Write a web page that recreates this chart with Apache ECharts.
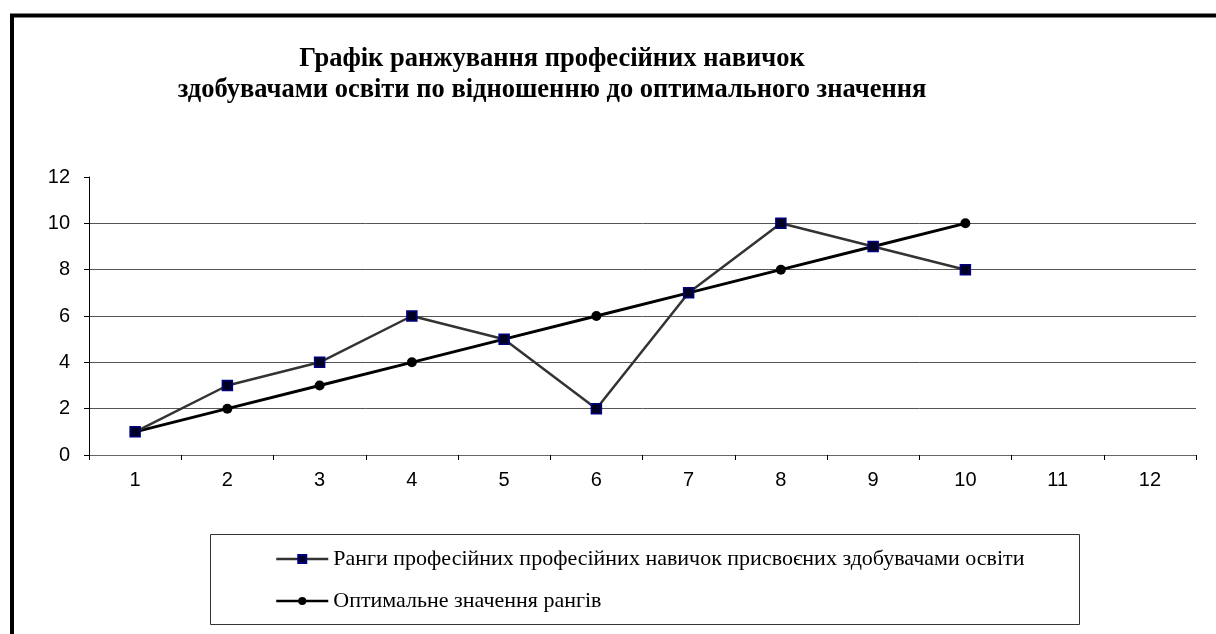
<!DOCTYPE html>
<html>
<head>
<meta charset="utf-8">
<script src="https://cdn.jsdelivr.net/npm/echarts@6/dist/echarts.min.js"></script>
<style>
  html, body { margin: 0; padding: 0; background: #fff; }
  #chart { width: 1216px; height: 634px; }
</style>
</head>
<body>
<div id="chart"></div>
<script>
// categories (x axis) and series values
const categories = ['1', '2', '3', '4', '5', '6', '7', '8', '9', '10', '11', '12'];
const ranksAssigned = [1, 3, 4, 6, 5, 2, 7, 10, 9, 8];
const ranksOptimal = [1, 2, 3, 4, 5, 6, 7, 8, 9, 10];
const seriesNames = [
  'Ранги професійних професійних навичок присвоєних здобувачами освіти',
  'Оптимальне значення рангів'
];
const titleText = 'Графік ранжування професійних навичок\nздобувачами освіти по відношенню до оптимального значення';

const chart = echarts.init(document.getElementById('chart'));

const option = {
  backgroundColor: '#fff',
  animation: false,
  title: {
    text: titleText,
    left: 552,
    top: 44,
    padding: 0,
    textAlign: 'center',
    textStyle: {
      fontFamily: 'Liberation Serif',
      fontWeight: 'bold',
      fontSize: 26.5,
      lineHeight: 31,
      color: '#000',
      align: 'center'
    }
  },
  graphic: [
    {
      type: 'polyline',
      shape: { points: [[12, 634], [12, 15.5], [1216, 15.5]] },
      style: { stroke: '#000', lineWidth: 4, fill: null },
      z: 10
    },
    {
      type: 'rect',
      shape: { x: 210.5, y: 534.5, width: 869, height: 90 },
      style: { stroke: '#333', lineWidth: 1, fill: null },
      z: 0
    }
  ],
  legend: {
    orient: 'vertical',
    left: 275,
    top: 548,
    padding: 0,
    itemWidth: 52,
    itemHeight: 10,
    itemGap: 20,
    data: seriesNames,
    lineStyle: { width: 2.5 },
    textStyle: {
      fontFamily: 'Liberation Serif',
      fontSize: 22,
      lineHeight: 22,
      color: '#000'
    }
  },
  grid: {
    left: 89,
    right: 20,
    top: 177,
    bottom: 179
  },
  xAxis: {
    type: 'category',
    data: categories,
    boundaryGap: true,
    axisLine: { lineStyle: { color: '#666', width: 1 } },
    axisTick: { show: true, interval: 0, length: 5, lineStyle: { color: '#000' } },
    axisLabel: {
      interval: 0,
      margin: 15,
      fontFamily: 'Liberation Sans',
      fontSize: 20,
      color: '#000'
    },
    splitLine: { show: false }
  },
  yAxis: {
    type: 'value',
    min: 0,
    max: 12,
    interval: 2,
    axisLine: { show: true, lineStyle: { color: '#000', width: 1 } },
    axisTick: { show: true, length: 5, lineStyle: { color: '#000' } },
    axisLabel: {
      margin: 19,
      fontFamily: 'Liberation Sans',
      fontSize: 20,
      color: '#000'
    },
    splitLine: {
      show: true,
      lineStyle: {
        color: ['#555', '#555', '#555', '#555', '#555', '#555', 'rgba(0,0,0,0)'],
        width: 1
      }
    }
  },
  series: [
    {
      name: seriesNames[0],
      type: 'line',
      data: ranksAssigned,
      symbol: 'rect',
      symbolSize: 10,
      z: 3,
      lineStyle: { color: '#333', width: 2.5 },
      itemStyle: { color: '#000022', borderColor: '#000080', borderWidth: 1.5 }
    },
    {
      name: seriesNames[1],
      type: 'line',
      data: ranksOptimal,
      symbol: 'circle',
      symbolSize: 10,
      z: 2,
      lineStyle: { color: '#000', width: 3 },
      itemStyle: { color: '#000', borderColor: '#000', borderWidth: 0 }
    }
  ]
};

chart.setOption(option);
</script>
</body>
</html>
